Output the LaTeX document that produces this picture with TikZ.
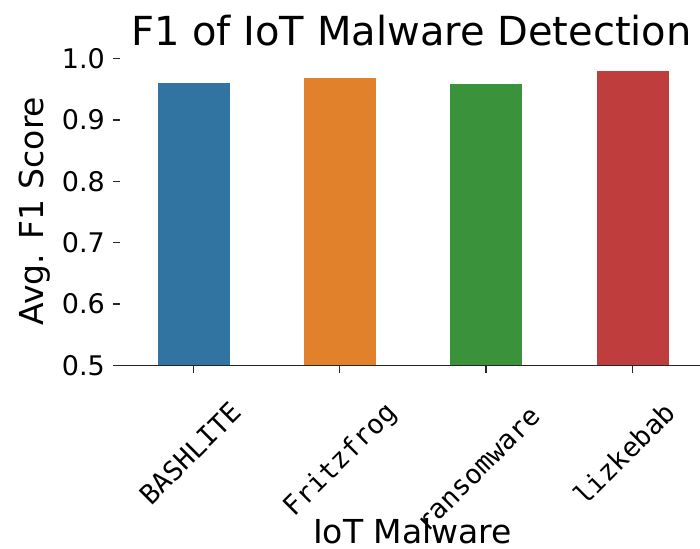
\documentclass[tikz,border=0pt]{standalone}
\usepackage{fontspec}
\setmainfont{DejaVu Sans}
\newfontfamily\chartmono{DejaVu Sans Mono}
\definecolor{barblue}{HTML}{3274A1}
\definecolor{barorange}{HTML}{E1812C}
\definecolor{bargreen}{HTML}{3A923A}
\definecolor{barred}{HTML}{C03D3E}
\begin{document}
\begin{tikzpicture}[x=1pt,y=-1pt,
  axisline/.style={line width=1.4pt,black!85},
  bar/.style={draw=white,line width=0.6pt},
  yticklab/.style={font=\fontsize{27}{32}\selectfont,inner sep=0pt,anchor=base east},
  xticklab/.style={font=\chartmono\fontsize{27}{32}\selectfont,inner sep=0pt,rotate=45,
                   text height=20pt,text depth=6pt,anchor=center},
  axlab/.style={font=\fontsize{33}{40}\selectfont,inner sep=0pt,anchor=base},
  titlelab/.style={font=\fontsize{40}{48}\selectfont,inner sep=0pt,anchor=base}]
\useasboundingbox (0,0) rectangle (700,548);
\fill[white] (0,0) rectangle (700,548);

% bars (value v drawn at y = 365.5 - (v-0.5)*614)
\fill[bar,fill=barblue]   (156.8,365.5) rectangle (229.8,82.7);
\fill[bar,fill=barorange] (303.2,365.5) rectangle (376.2,77.3);
\fill[bar,fill=bargreen]  (449.6,365.5) rectangle (522.6,83.3);
\fill[bar,fill=barred]    (596.0,365.5) rectangle (669.0,70.7);
\draw[bar] (156.8,365.5) rectangle (229.8,82.7);
\draw[bar] (303.2,365.5) rectangle (376.2,77.3);
\draw[bar] (449.6,365.5) rectangle (522.6,83.3);
\draw[bar] (596.0,365.5) rectangle (669.0,70.7);

% bottom spine
\coordinate (spineL) at (120,365.5);
\coordinate (spineR) at (700,365.5);
\draw[axisline] (spineL) -- (spineR);

% y ticks and labels
\foreach \v/\yy in {0.5/365.5,0.6/304.1,0.7/242.7,0.8/181.3,0.9/119.9,1.0/58.5}{
  \draw[axisline] (113,\yy) -- (120,\yy);
  \node[yticklab] at (105,\yy+9.8) {\v};
}

% x ticks
\foreach \xx in {193.3,339.7,486.1,632.5}{
  \draw[axisline] (\xx,365.5) -- (\xx,372.5);
}
% rotated category labels
\node[xticklab] (lab1) at (192.3,455.3) {BASHLITE};
\node[xticklab] (lab2) at (341.7,461.0) {Fritzfrog};
\node[xticklab] (lab3) at (480.0,471.0) {ransomware};
\node[xticklab] (lab4) at (626.5,456.0) {lizkebab};

% axis titles and chart title
\node[axlab] (xlab) at (412.5,543) {IoT Malware};
\node[axlab,rotate=90] (ylab) at (43,211) {Avg. F1 Score};
\node[titlelab] (title) at (411.5,46) {F1 of IoT Malware Detection};
\end{tikzpicture}
\end{document}
